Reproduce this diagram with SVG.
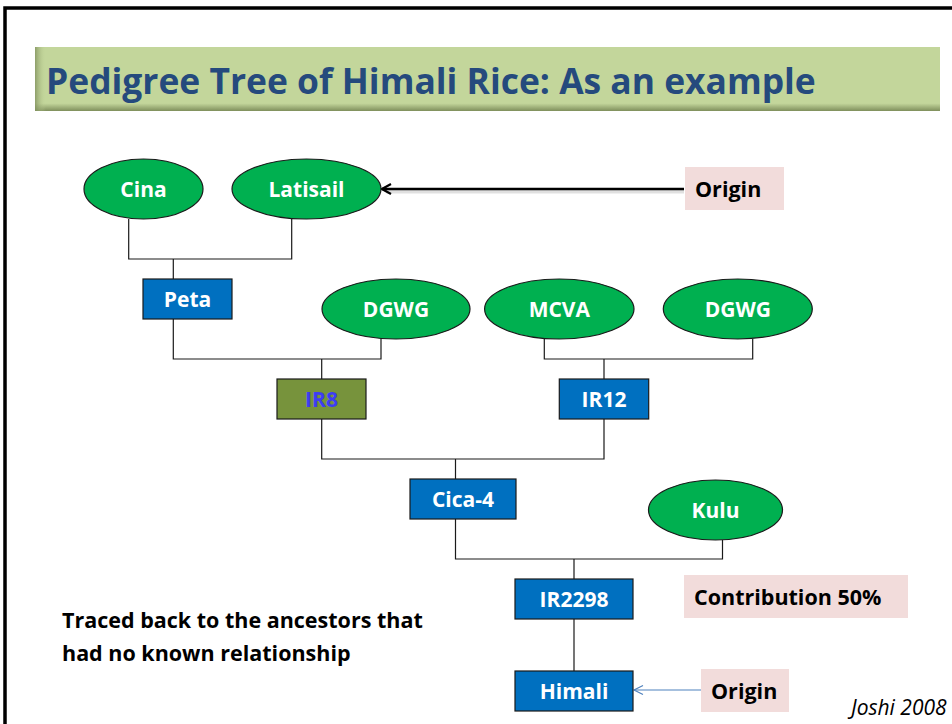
<svg xmlns="http://www.w3.org/2000/svg" width="952" height="724" viewBox="0 0 952 724">
<style>
.ell{fill:#00b050;stroke:#1a1a1a;stroke-width:1.2}
.box{fill:#0070c0;stroke:#1a1a1a;stroke-width:1.2}
.lbl{font-family:"Open Sans","Liberation Sans",sans-serif;font-weight:bold;font-size:21px;fill:#ffffff;text-anchor:middle}
.note{fill:#f2dcdb}
.ntxt{font-family:"Open Sans","Liberation Sans",sans-serif;font-weight:bold;font-size:21.5px;fill:#000000}
.con{fill:none;stroke:#1a1a1a;stroke-width:1.2}
.side{font-family:"Open Sans","Liberation Sans",sans-serif;font-weight:bold;font-size:21.5px;fill:#000000}
</style>
<defs>
<linearGradient id="bannerV" x1="0" y1="0" x2="0" y2="1">
<stop offset="0" stop-color="#c3d69b"/>
<stop offset="0.88" stop-color="#c3d69b"/>
<stop offset="1" stop-color="#7f8f5c"/>
</linearGradient>
<linearGradient id="bannerH" x1="0" y1="0" x2="1" y2="0">
<stop offset="0" stop-color="#7f8f5c" stop-opacity="0.8"/>
<stop offset="0.012" stop-color="#c3d69b" stop-opacity="0"/>
<stop offset="1" stop-color="#c3d69b" stop-opacity="0"/>
</linearGradient>
<marker id="arrBlack" markerWidth="12" markerHeight="12" refX="10" refY="6" orient="auto" markerUnits="userSpaceOnUse">
<path d="M1,1 L10,6 L1,11" fill="none" stroke="#000" stroke-width="2.2"/>
</marker>
<marker id="arrBlue" markerWidth="12" markerHeight="12" refX="10" refY="6" orient="auto" markerUnits="userSpaceOnUse">
<path d="M1,1.5 L10,6 L1,10.5" fill="none" stroke="#4f81bd" stroke-width="1.2"/>
</marker>
</defs>
<rect width="952" height="724" fill="#ffffff"/>
<path d="M5,730 L5,8 L960,8" fill="none" stroke="#000" stroke-width="3.5"/>
<g id="title">
<rect x="35" y="47" width="905" height="64" fill="url(#bannerV)"/>
<rect x="35" y="47" width="905" height="64" fill="url(#bannerH)"/>
<text x="46" y="94" font-family="'Open Sans','Liberation Sans',sans-serif" font-weight="bold" font-size="35.4" fill="#254a7d">Pedigree Tree of Himali Rice: As an example</text>
</g>
<g id="connectors">
<path class="con" d="M128.7,219 V259 H291.7 V219 M173.3,259 V279"/>
<path class="con" d="M173.3,319 V359 H381 V339 M321.7,359 V379"/>
<path class="con" d="M544.3,339 V359 H752.7 V339 M604,359 V379"/>
<path class="con" d="M321.7,419 V459 H604 V419 M455.5,459 V479"/>
<path class="con" d="M455.5,519 V559 H722.5 V540 M574,559 V579"/>
<path class="con" d="M574,619 V671"/>
<path d="M684,191.5 L386,191.5" fill="none" stroke="#000" stroke-opacity="0.12" stroke-width="4"/>
<path d="M684,189 L382,189" fill="none" stroke="#000" stroke-width="2.5" marker-end="url(#arrBlack)"/>
<path d="M701,690 L634,690" fill="none" stroke="#4f81bd" stroke-width="1.2" marker-end="url(#arrBlue)"/>
</g>
<g id="cina"><ellipse class="ell" cx="143.5" cy="189" rx="59.5" ry="30"/><text class="lbl" x="143.5" y="196.5">Cina</text></g>
<g id="latisail"><ellipse class="ell" cx="306.5" cy="189" rx="74.5" ry="30"/><text class="lbl" x="306.5" y="196.5">Latisail</text></g>
<g id="peta"><rect class="box" x="143" y="279" width="89" height="40"/><text class="lbl" x="187.5" y="306.5">Peta</text></g>
<g id="dgwg1"><ellipse class="ell" cx="396" cy="309" rx="74" ry="30"/><text class="lbl" x="396" y="316.5">DGWG</text></g>
<g id="mcva"><ellipse class="ell" cx="559.3" cy="309" rx="74.7" ry="30"/><text class="lbl" x="559.3" y="316.5">MCVA</text></g>
<g id="dgwg2"><ellipse class="ell" cx="737.8" cy="309" rx="74.5" ry="30"/><text class="lbl" x="737.8" y="316.5">DGWG</text></g>
<g id="ir8"><rect x="277" y="379" width="89" height="40" fill="#77933c" stroke="#1a1a1a" stroke-width="1.2"/><text class="lbl" x="321.5" y="406.5" style="fill:#3d3df5">IR8</text></g>
<g id="ir12"><rect class="box" x="559.3" y="379" width="89.4" height="40"/><text class="lbl" x="604" y="406.5">IR12</text></g>
<g id="cica4"><rect class="box" x="410" y="479" width="106" height="40"/><text class="lbl" x="463" y="506.5">Cica-4</text></g>
<g id="kulu"><ellipse class="ell" cx="715.5" cy="510" rx="67" ry="30"/><text class="lbl" x="715.5" y="517.5">Kulu</text></g>
<g id="ir2298"><rect class="box" x="515" y="579" width="118" height="40"/><text class="lbl" x="574" y="606.5">IR2298</text></g>
<g id="himali"><rect class="box" x="515" y="671" width="118" height="40"/><text class="lbl" x="574" y="698.5">Himali</text></g>
<g id="origin1"><rect class="note" x="685" y="167" width="99" height="43"/><text class="ntxt" x="695" y="196.5">Origin</text></g>
<g id="contribution"><rect class="note" x="684" y="575" width="224" height="43"/><text class="ntxt" x="694" y="604.5">Contribution 50%</text></g>
<g id="origin2"><rect class="note" x="701" y="669" width="88" height="43"/><text class="ntxt" x="711" y="698.5">Origin</text></g>
<text class="side" x="62" y="628">Traced back to the ancestors that</text>
<text class="side" x="62" y="661">had no known relationship</text>
<text x="851" y="715" font-family="'Open Sans','Liberation Sans',sans-serif" font-style="italic" font-size="21" fill="#000">Joshi 2008</text>
</svg>
